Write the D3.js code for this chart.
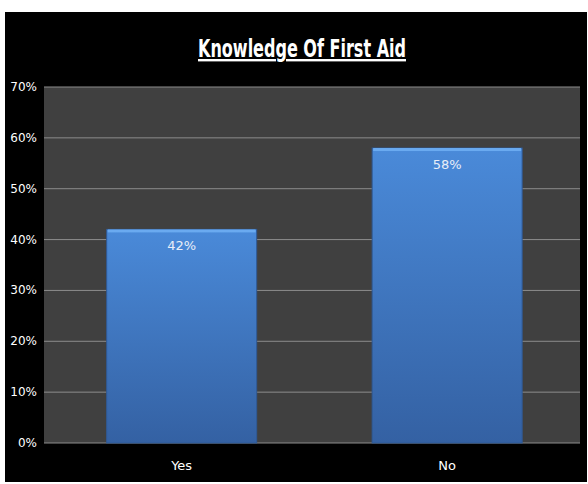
<!DOCTYPE html>
<html>
<head>
<meta charset="utf-8">
<script src="https://cdnjs.cloudflare.com/ajax/libs/d3/7.8.5/d3.min.js"></script>
<style>
  html, body { margin: 0; background: #fff; }
  svg { display: block; }
  text { font-family: "DejaVu Sans", sans-serif; }
</style>
</head>
<body>
<svg width="588" height="484"></svg>
<script>
const categories = ["Yes", "No"];
const values = [42, 58];
const labels = ["42%", "58%"];
const yTicks = [0, 10, 20, 30, 40, 50, 60, 70];

const svg = d3.select("svg");
const plot = { left: 44, right: 580, top: 87, bottom: 443 };

// black chart frame
svg.append("rect").attr("x", 5).attr("y", 12).attr("width", 582).attr("height", 470).attr("fill", "#000");

const defs = svg.append("defs");
const grad = defs.append("linearGradient").attr("id", "barGrad")
  .attr("x1", 0).attr("y1", 0).attr("x2", 0).attr("y2", 1);
grad.append("stop").attr("offset", "0%").attr("stop-color", "#4a8ad9");
grad.append("stop").attr("offset", "100%").attr("stop-color", "#3461a3");

const x = d3.scaleBand().domain(categories).range([plot.left, plot.right])
  .paddingInner(0.435).paddingOuter(0.227).align(0.52);
const y = d3.scaleLinear().domain([0, 70]).range([plot.bottom, plot.top]);

svg.append("rect").attr("x", plot.left).attr("y", plot.top)
  .attr("width", plot.right - plot.left).attr("height", plot.bottom - plot.top)
  .attr("fill", "#404040");

svg.append("g").selectAll("line").data(yTicks).join("line")
  .attr("x1", plot.left).attr("x2", plot.right)
  .attr("y1", d => y(d)).attr("y2", d => y(d))
  .attr("stroke", "#8c8c8c").attr("stroke-width", 1);

svg.append("g").selectAll("text").data(yTicks).join("text")
  .attr("x", 37).attr("y", d => y(d) + 4)
  .attr("text-anchor", "end").attr("fill", "#fff").attr("font-size", 12)
  .text(d => d + "%");

const bars = svg.append("g").selectAll("g").data(values).join("g");
bars.append("rect")
  .attr("x", (d, i) => x(categories[i])).attr("y", d => y(d))
  .attr("width", x.bandwidth()).attr("height", d => y(0) - y(d))
  .attr("fill", "url(#barGrad)").attr("stroke", "#2f5a96").attr("stroke-width", 1);
bars.append("rect")
  .attr("x", (d, i) => x(categories[i]) + 1).attr("y", d => y(d))
  .attr("width", x.bandwidth() - 2).attr("height", 3)
  .attr("fill", "#6aaaf0");
bars.append("text")
  .attr("x", (d, i) => x(categories[i]) + x.bandwidth() / 2).attr("y", d => y(d) + 21)
  .attr("text-anchor", "middle").attr("fill", "#e8eef8").attr("font-size", 13)
  .text((d, i) => labels[i]);

svg.append("g").selectAll("text").data(categories).join("text")
  .attr("x", d => x(d) + x.bandwidth() / 2).attr("y", 470)
  .attr("text-anchor", "middle").attr("fill", "#fff").attr("font-size", 13)
  .text(d => d);

svg.append("text").attr("x", 302).attr("y", 57)
  .attr("text-anchor", "middle").attr("fill", "#fff").attr("font-size", 24)
  .attr("font-weight", "bold")
  .attr("textLength", 208).attr("lengthAdjust", "spacingAndGlyphs")
  .attr("text-decoration", "underline")
  .text("Knowledge Of First Aid");
</script>
</body>
</html>
